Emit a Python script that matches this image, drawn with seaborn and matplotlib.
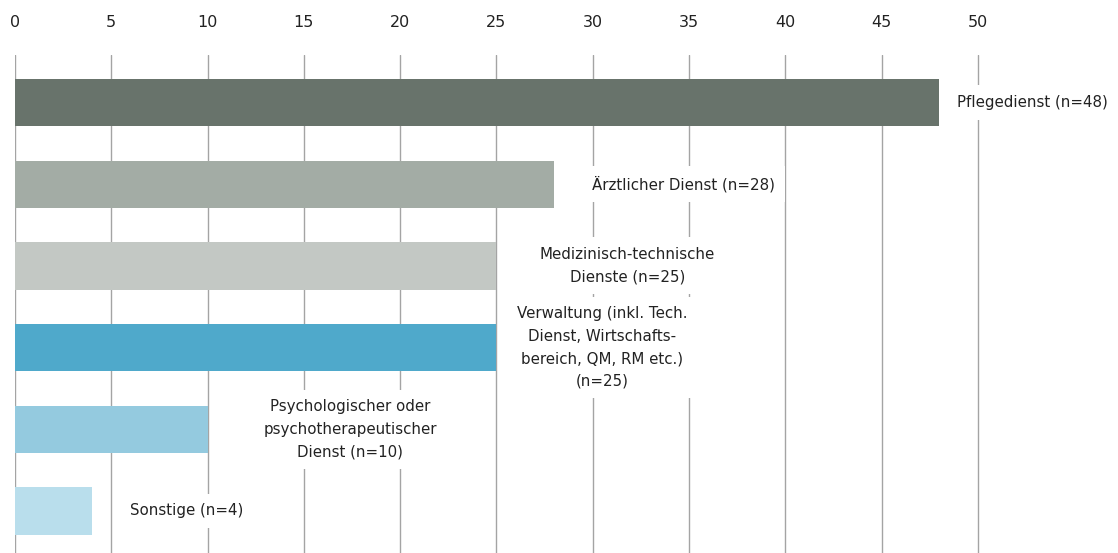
import pandas as pd
import seaborn as sns
import matplotlib.pyplot as plt

# Data
categories = ['Pflegedienst', 'Ärztlicher Dienst', 'Medizinisch-technische Dienste',
              'Verwaltung', 'Psychologischer Dienst', 'Sonstige']
counts = [48, 28, 25, 25, 10, 4]
bar_labels = [
    'Pflegedienst (n=48)',
    'Ärztlicher Dienst (n=28)',
    'Medizinisch-technische\nDienste (n=25)',
    'Verwaltung (inkl. Tech.\nDienst, Wirtschafts-\nbereich, QM, RM etc.)\n(n=25)',
    'Psychologischer oder\npsychotherapeutischer\nDienst (n=10)',
    'Sonstige (n=4)',
]
x_ticks = [0, 5, 10, 15, 20, 25, 30, 35, 40, 45, 50]

# Layout: label anchor x (data units) and alignment
label_x = [48.9, 34.7, 31.8, 30.5, 17.4, 8.9]
label_ha = ['left', 'center', 'center', 'center', 'center', 'center']
colors = ['#68736b', '#a3aca5', '#c3c8c4', '#4fa9cb', '#94cadf', '#b9deec']

df = pd.DataFrame({'category': categories, 'count': counts})

sns.set_style('white')
plt.rcParams['font.family'] = ['DejaVu Sans']

fig = plt.figure(figsize=(11.18, 5.53), dpi=100)
ax = fig.add_axes([15 / 1118, 0, 1 - 15 / 1118, 1 - 55 / 553])

sns.barplot(data=df, y='category', x='count', hue='category', palette=colors,
            orient='h', width=0.58, legend=False, saturation=1, linewidth=0,
            ax=ax, zorder=3)

ax.set_xlim(0, 57.27)
ax.set_ylim(5.515, -0.582)
ax.set_xticks(x_ticks)
ax.set_xticklabels([str(t) for t in x_ticks])
ax.xaxis.tick_top()
ax.tick_params(axis='x', length=0, pad=18, labelsize=11.5, colors='#222222')
ax.set_yticks([])
ax.set_xlabel('')
ax.set_ylabel('')
for s in ax.spines.values():
    s.set_visible(False)
ax.grid(axis='x', color='#a4a4a4', linewidth=1)
ax.grid(axis='y', visible=False)
ax.set_axisbelow(True)

for i, (lbl, lx, ha) in enumerate(zip(bar_labels, label_x, label_ha)):
    ax.text(lx, i, lbl, ha=ha, va='center', multialignment='center',
            fontsize=10.8, color='#222222', linespacing=1.62, zorder=4,
            bbox=dict(boxstyle='square,pad=0.65', facecolor='white', edgecolor='none'))

plt.savefig('out.png', dpi=100)
